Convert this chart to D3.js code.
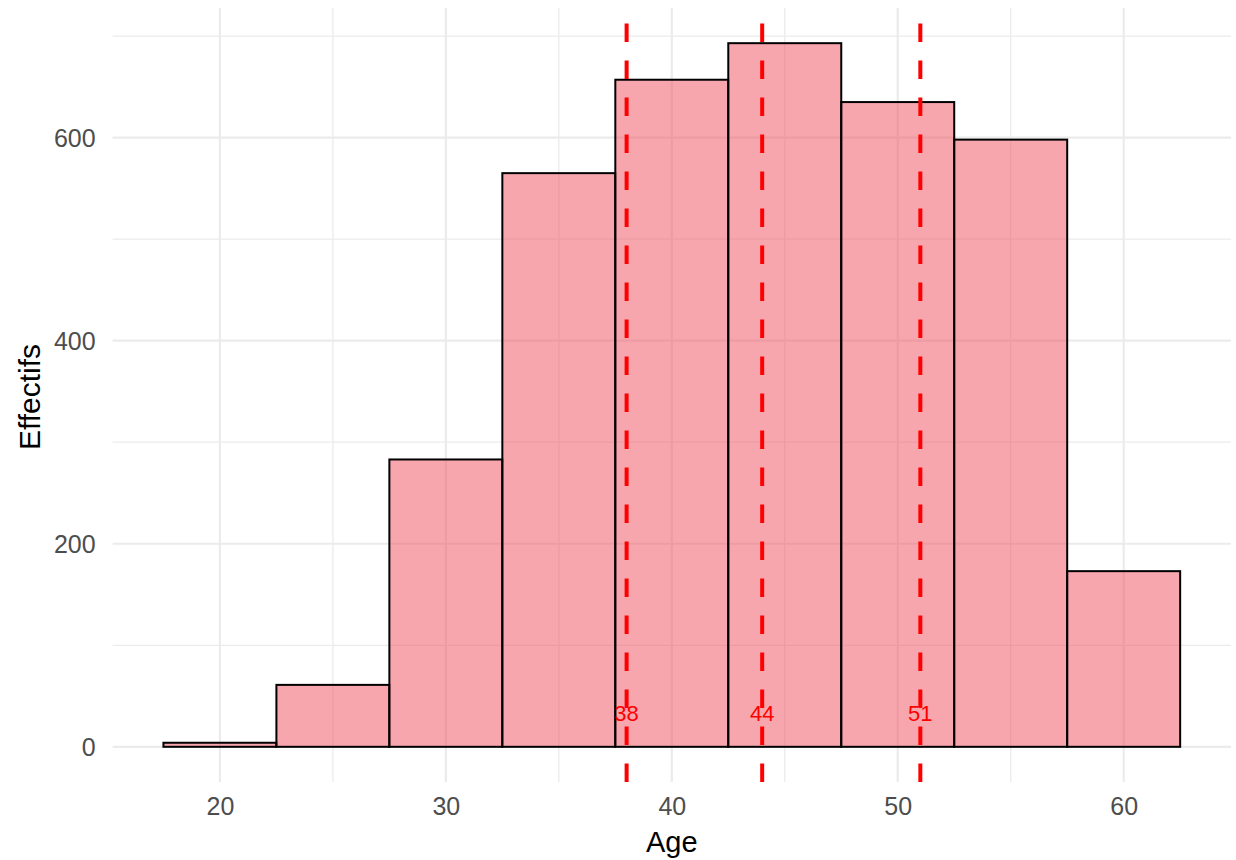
<!DOCTYPE html>
<html>
<head>
<meta charset="utf-8">
<script src="https://cdn.jsdelivr.net/npm/d3@7"></script>
<style>
  body { margin: 0; background: #fff; }
  svg { display: block; font-family: "Liberation Sans", Arial, sans-serif; }
</style>
</head>
<body>
<svg id="chart" width="1236" height="860"></svg>
<script>
// Data
const binCenters = [20, 25, 30, 35, 40, 45, 50, 55, 60];
const counts = [4, 61, 283, 565, 657, 693, 635, 598, 173];
const binWidth = 5;
const quartiles = [38, 44, 51];
const quartileLabels = ["38", "44", "51"];
const xTicks = [20, 30, 40, 50, 60];
const xMinor = [25, 35, 45, 55];
const yTicks = [0, 200, 400, 600];
const yMinor = [100, 300, 500, 700];
const labelY = 25;

const svg = d3.select("#chart");
const panel = { left: 112.6, right: 1231, top: 8, bottom: 782 };

const xMin = binCenters[0] - binWidth / 2, xMax = binCenters[binCenters.length - 1] + binWidth / 2;
const xPad = (xMax - xMin) * 0.05;
const x = d3.scaleLinear().domain([xMin - xPad, xMax + xPad]).range([panel.left, panel.right]);
const yMaxV = d3.max(counts);
const yPad = yMaxV * 0.05;
const y = d3.scaleLinear().domain([-yPad, yMaxV + yPad]).range([panel.bottom, panel.top]);

const grid = svg.append("g");
grid.selectAll(".xminor").data(xMinor).join("line")
  .attr("x1", d => x(d)).attr("x2", d => x(d))
  .attr("y1", panel.top).attr("y2", panel.bottom)
  .attr("stroke", "#EBEBEB").attr("stroke-width", 1.3);
grid.selectAll(".yminor").data(yMinor).join("line")
  .attr("x1", panel.left).attr("x2", panel.right)
  .attr("y1", d => y(d)).attr("y2", d => y(d))
  .attr("stroke", "#EBEBEB").attr("stroke-width", 1.3);
grid.selectAll(".xmajor").data(xTicks).join("line")
  .attr("x1", d => x(d)).attr("x2", d => x(d))
  .attr("y1", panel.top).attr("y2", panel.bottom)
  .attr("stroke", "#EBEBEB").attr("stroke-width", 2.2);
grid.selectAll(".ymajor").data(yTicks).join("line")
  .attr("x1", panel.left).attr("x2", panel.right)
  .attr("y1", d => y(d)).attr("y2", d => y(d))
  .attr("stroke", "#EBEBEB").attr("stroke-width", 2.2);

// bars
svg.append("g").selectAll("rect").data(binCenters.map((c, i) => ({ c, v: counts[i] }))).join("rect")
  .attr("x", d => x(d.c - binWidth / 2))
  .attr("width", d => x(d.c + binWidth / 2) - x(d.c - binWidth / 2))
  .attr("y", d => y(d.v))
  .attr("height", d => y(0) - y(d.v))
  .attr("fill", "#EF4D5D").attr("fill-opacity", 0.5)
  .attr("stroke", "#000").attr("stroke-width", 2);

// dashed quartile lines (drawn from bottom upward)
svg.append("g").selectAll("line").data(quartiles).join("line")
  .attr("x1", d => x(d)).attr("x2", d => x(d))
  .attr("y1", panel.bottom).attr("y2", panel.top)
  .attr("stroke", "#FF0000").attr("stroke-width", 4)
  .attr("stroke-dasharray", "18.5,18.5");

// quartile labels
svg.append("g").selectAll("text").data(quartiles).join("text")
  .attr("x", d => x(d)).attr("y", y(labelY))
  .attr("text-anchor", "middle")
  .attr("fill", "#FF0000").style("font-size", "22px")
  .text((d, i) => quartileLabels[i]);

// x axis labels
const xAxis = d3.axisBottom(x).tickValues(xTicks).tickSize(0).tickPadding(0);
const gx = svg.append("g").attr("transform", `translate(0,${panel.bottom})`).call(xAxis);
gx.attr("font-size", null).attr("font-family", null);
gx.select(".domain").remove();
gx.selectAll("text").style("font-size", "25px").attr("fill", "#4D4D4D")
  .attr("dy", null).attr("y", 33);

// y axis labels
const yAxis = d3.axisLeft(y).tickValues(yTicks).tickSize(0).tickPadding(0);
const gy = svg.append("g").attr("transform", `translate(${panel.left},0)`).call(yAxis);
gy.attr("font-size", null).attr("font-family", null);
gy.select(".domain").remove();
gy.selectAll("text").style("font-size", "25px").attr("fill", "#4D4D4D")
  .attr("x", -17).attr("dy", "0.36em");

// axis titles
svg.append("text").attr("x", (panel.left + panel.right) / 2).attr("y", 852)
  .attr("text-anchor", "middle")
  .style("font-size", "29px").attr("fill", "#000").text("Age");
svg.append("text").attr("transform", `translate(40,${(panel.top + panel.bottom) / 2 + 2}) rotate(-90)`)
  .attr("text-anchor", "middle")
  .style("font-size", "30px").attr("fill", "#000").text("Effectifs");
</script>
</body>
</html>
